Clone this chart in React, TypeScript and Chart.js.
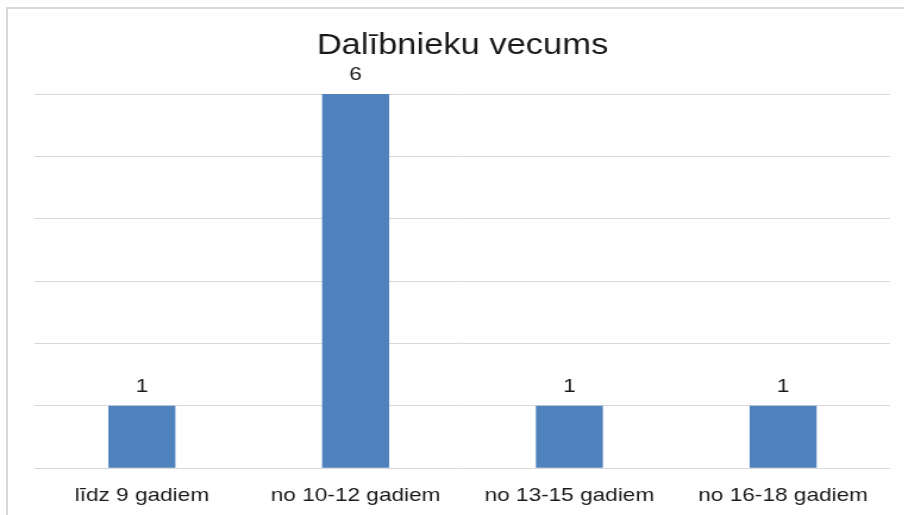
import React, { useEffect, useRef } from 'react';
import { Chart, registerables } from 'chart.js';

Chart.register(...registerables);

const TITLE = 'Dalībnieku vecums';
const CATEGORIES = ['līdz 9 gadiem', 'no 10-12 gadiem', 'no 13-15 gadiem', 'no 16-18 gadiem'];
const VALUES = [1, 6, 1, 1];
const Y_MIN = 0;
const Y_MAX = 6;
const Y_STEP = 1;

// The reference is horizontally stretched; draw narrower and stretch with CSS.
const S = 1.19;
const W = 760;
const H = 515;
const FONT = '"Liberation Sans", Arial, sans-serif';
const TEXT = '#1a1a1a';
const BAR = '#4F81BD';
const GRID = '#d9d9d9';

const valueLabels = {
  id: 'valueLabels',
  afterDatasetsDraw(chart: any) {
    const ctx = chart.ctx;
    const meta = chart.getDatasetMeta(0);
    ctx.save();
    ctx.font = `19px ${FONT}`;
    ctx.fillStyle = TEXT;
    ctx.textAlign = 'center';
    ctx.textBaseline = 'alphabetic';
    meta.data.forEach((bar: any, i: number) => {
      ctx.fillText(String(VALUES[i]), bar.x, bar.y - 14);
    });
    ctx.restore();
  },
};

export default function App() {
  const ref = useRef<HTMLCanvasElement | null>(null);

  useEffect(() => {
    if (!ref.current) return;
    const chart = new Chart(ref.current, {
      type: 'bar',
      data: {
        labels: CATEGORIES,
        datasets: [
          {
            data: VALUES,
            backgroundColor: BAR,
            borderWidth: 0,
            barPercentage: 0.3135,
            categoryPercentage: 1,
          },
        ],
      },
      options: {
        responsive: false,
        animation: false,
        devicePixelRatio: 1,
        layout: { padding: { left: 29.4, right: 12.1, top: 0, bottom: -8 } },
        plugins: {
          legend: { display: false },
          tooltip: { enabled: false },
          title: {
            display: true,
            text: TITLE,
            color: TEXT,
            font: { family: FONT, size: 29, weight: 'normal' },
            padding: { top: 28.6, bottom: 30.6 },
          },
        },
        scales: {
          x: {
            grid: { display: false, drawTicks: false },
            border: { display: false },
            ticks: {
              color: TEXT,
              font: { family: FONT, size: 19 },
              padding: 16,
              maxRotation: 0,
              autoSkip: false,
            },
          },
          y: {
            min: Y_MIN,
            max: Y_MAX,
            ticks: { display: false, stepSize: Y_STEP },
            grid: { color: GRID, lineWidth: 1, drawTicks: false },
            border: { display: false },
          },
        },
      },
      plugins: [valueLabels],
    });
    return () => chart.destroy();
  }, []);

  return (
    <div>
      <div
        style={{
          position: 'fixed',
          left: 6,
          top: 7,
          width: 1200,
          height: 800,
          border: `2px solid ${GRID}`,
          boxSizing: 'border-box',
        }}
      />
      <canvas
        ref={ref}
        width={W}
        height={H}
        style={{
          position: 'fixed',
          left: 0,
          top: 0,
          width: W,
          height: H,
          transform: `scaleX(${S})`,
          transformOrigin: '0 0',
        }}
      />
    </div>
  );
}
